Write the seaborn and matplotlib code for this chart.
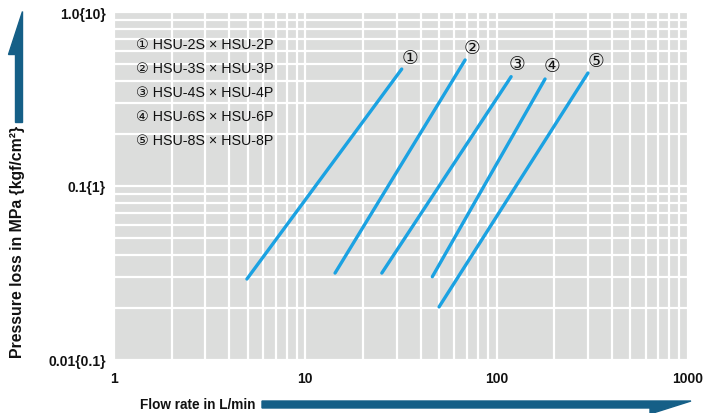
import matplotlib
matplotlib.use("Agg")
import matplotlib.pyplot as plt
import seaborn as sns
import pandas as pd
import numpy as np
from matplotlib.ticker import LogLocator, FixedLocator, NullFormatter, FixedFormatter
from matplotlib.patches import Polygon

# ---- data ----
series_names = ["①", "②", "③", "④", "⑤"]
legend_labels = ["① HSU-2S × HSU-2P", "② HSU-3S × HSU-3P", "③ HSU-4S × HSU-4P",
                 "④ HSU-6S × HSU-6P", "⑤ HSU-8S × HSU-8P"]
flow_start = [4.95, 14.3, 25.1, 46.1, 50.0]
flow_end = [31.9, 68.4, 119.0, 179.0, 300.0]
press_start = [0.0292, 0.0316, 0.0316, 0.0301, 0.0202]
press_end = [0.470, 0.530, 0.425, 0.412, 0.446]
label_x = [35.3, 74.4, 128.0, 195.0, 331.0]
label_y = [0.551, 0.629, 0.503, 0.490, 0.523]
xtick_vals = [1, 10, 100, 1000]
xtick_labels = ["1", "10", "100", "1000"]
ytick_vals = [0.01, 0.1, 1.0]
ytick_labels = ["0.01{0.1}", "0.1{1}", "1.0{10}"]

rows = []
for n, f0, f1, p0, p1 in zip(series_names, flow_start, flow_end, press_start, press_end):
    rows.append({"series": n, "flow": f0, "pressure": p0})
    rows.append({"series": n, "flow": f1, "pressure": p1})
df = pd.DataFrame(rows)

sns.set_theme(style="white")
FONT = ['Liberation Sans', 'DejaVu Sans']
plt.rcParams['font.family'] = FONT

W, H = 716, 414
fig = plt.figure(figsize=(W / 100, H / 100), dpi=100)
L, R, T, B = 114, 688, 13, 361
ax = fig.add_axes([L / W, 1 - B / H, (R - L) / W, (B - T) / H])
ax.set_facecolor("#dcdddc")

BLUE = "#1ba2e2"
sns.lineplot(data=df, x="flow", y="pressure", hue="series",
             palette=[BLUE] * len(series_names), linewidth=2.4,
             legend=False, ax=ax, estimator=None, sort=False, zorder=3)

ax.set_xscale("log")
ax.set_yscale("log")
ax.set_xlim(1, 1000)
ax.set_ylim(0.01, 1.0)

ax.xaxis.set_major_locator(FixedLocator(xtick_vals))
ax.xaxis.set_major_formatter(FixedFormatter(xtick_labels))
ax.yaxis.set_major_locator(FixedLocator(ytick_vals))
ax.yaxis.set_major_formatter(FixedFormatter(ytick_labels))
ax.xaxis.set_minor_locator(LogLocator(base=10, subs=np.arange(2, 10)))
ax.yaxis.set_minor_locator(LogLocator(base=10, subs=np.arange(2, 10)))
ax.xaxis.set_minor_formatter(NullFormatter())
ax.yaxis.set_minor_formatter(NullFormatter())

ax.grid(True, which="both", color="white", linewidth=1.6, zorder=1)
ax.set_axisbelow(True)
ax.tick_params(which="both", length=0)
ax.tick_params(axis="x", pad=8, labelsize=10)
ax.tick_params(axis="y", pad=6, labelsize=10)
for lab in ax.get_xticklabels() + ax.get_yticklabels():
    lab.set_fontweight("bold")
    lab.set_color("#111111")
for s in ax.spines.values():
    s.set_visible(False)
ax.set_xlabel("")
ax.set_ylabel("")

# circled series labels near line ends
for n, lx, ly in zip(series_names, label_x, label_y):
    ax.text(lx, ly, n, ha="center", va="center", fontsize=13.5,
            family=['DejaVu Sans'], color="#111111", zorder=4)

# legend text block
for i, t in enumerate(legend_labels):
    fig.text(136 / W, 1 - (45 + i * 24) / H, t, ha="left", va="center",
             fontsize=10.3, family=FONT, color="#111111")

# axis titles
fig.text(18 / W, 1 - 242 / H, "Pressure loss in MPa {kgf/cm²}", rotation=90,
         ha="center", va="center", fontsize=11.4, fontweight="bold", color="#111111")
fig.text(140 / W, 1 - 405 / H, "Flow rate in L/min", ha="left", va="center",
         fontsize=9.8, fontweight="bold", color="#111111")

# decorative arrows (pixel coords -> figure fraction)
ARROW = "#155f87"
def px(pts):
    return [(x / W, 1 - y / H) for x, y in pts]

fig.patches.append(Polygon(px([(22, 12), (22, 123), (15, 123), (15, 55), (8, 55)]),
                           closed=True, color=ARROW, transform=fig.transFigure, figure=fig))
fig.patches.append(Polygon(px([(262, 402), (691, 402), (650, 415), (650, 409), (262, 409)]),
                           closed=True, color=ARROW, transform=fig.transFigure, figure=fig))

fig.savefig("out.png", dpi=100, facecolor="white")
